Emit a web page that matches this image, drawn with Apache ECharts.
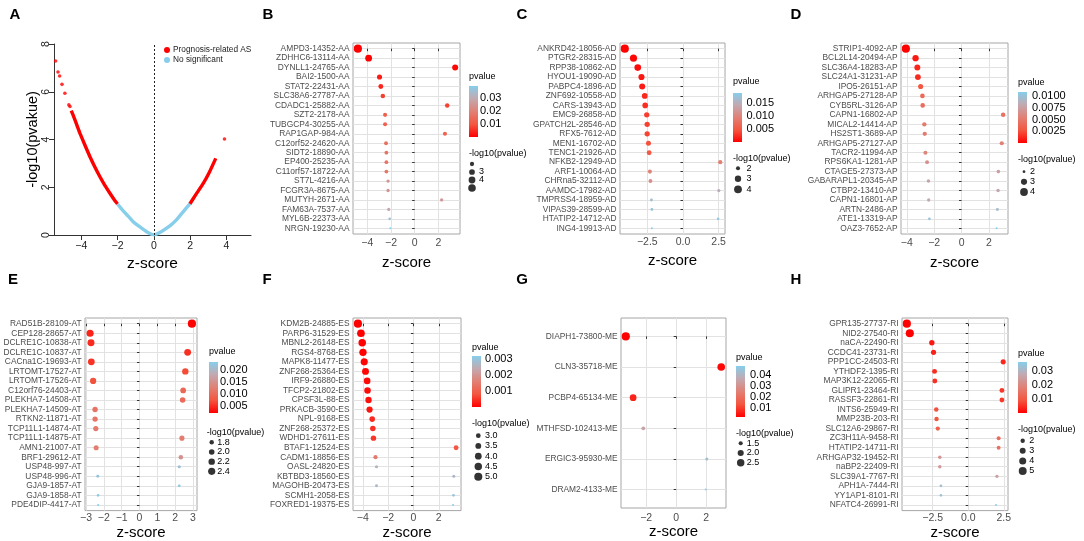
<!DOCTYPE html>
<html lang="en">
<head>
<meta charset="UTF-8">
<title>Prognosis-related AS events</title>
<script src="https://cdn.jsdelivr.net/npm/echarts@6.0.0/dist/echarts.min.js"></script>
<style>
    * { margin: 0; padding: 0; }
    html, body { width: 100%; height: 100%; background: #fff; }
    #main { width: 1084px; height: 541px; }
</style>
</head>
<body>
<div id="main"></div>
<script>
var FONT = '"Liberation Sans", Arial, Helvetica, sans-serif';
// red (low p) -> skyblue (high p), roughly the Lab blend ggplot makes
var LOW_TO_HIGH = ['#ff0000', '#f35640', '#e18074', '#c2a9b0', '#87ceeb'];

// ---------- A: volcano-like curve ----------
var aRedLeft = [[-4.55,5.21],[-4.4,4.93],[-4.2,4.52],[-4.07,4.26],[-3.8,3.77],[-3.52,3.28],[-3.25,2.85],
                [-2.97,2.44],[-2.7,2.08],[-2.42,1.75],[-2.2,1.5],[-2.0,1.3]];
var aBlue = [[-2.0,1.3],[-1.7,1.02],[-1.4,0.78],[-1.14,0.56],[-0.8,0.36],[-0.4,0.14],[0,0.01],
             [0.4,0.14],[0.88,0.38],[1.2,0.6],[1.6,0.96],[1.98,1.3]];
var aRedRight = [[1.98,1.3],[2.3,1.68],[2.72,2.16],[3.05,2.62],[3.41,3.21]];
var aRedOut = [[-5.41,7.29],[-5.28,6.83],[-5.19,6.66],[-5.06,6.31],[-4.9,5.94],[-4.68,5.45],[-4.62,5.38],[3.89,4.02]];
var aTicksX = [-4, -2, 0, 2, 4];
var aTicksY = [0, 2, 4, 6, 8];

// ---------- B: AA ----------
var bNames = ['AMPD3-14352-AA','ZDHHC6-13114-AA','DYNLL1-24765-AA','BAI2-1500-AA','STAT2-22431-AA','SLC38A6-27787-AA',
    'CDADC1-25882-AA','SZT2-2178-AA','TUBGCP4-30255-AA','RAP1GAP-984-AA','C12orf52-24620-AA','SIDT2-18890-AA',
    'EP400-25235-AA','C11orf57-18722-AA','ST7L-4216-AA','FCGR3A-8675-AA','MUTYH-2671-AA','FAM63A-7537-AA',
    'MYL6B-22373-AA','NRGN-19230-AA'];
var bZ = [-4.80,-3.89,3.42,-2.97,-2.86,-2.69,2.75,-2.50,-2.50,2.56,-2.42,-2.39,-2.39,-2.39,-2.25,-2.25,2.28,-2.19,-2.11,-2.06];
var bP = [0.0000016,0.0001,0.00063,0.003,0.0042,0.0071,0.0075,0.0124,0.0125,0.0128,0.0155,0.0168,0.017,0.0172,
          0.0244,0.0245,0.025,0.0285,0.035,0.039];
var bTicks = [-4, -2, 0, 2];
var bBarTicks = [0.01, 0.02, 0.03];
var bBarLabels = ['0.01', '0.02', '0.03'];
var bSizeVals = [2, 3, 4, 5];
var bSizeLabels = ['2', '3', '4', '5'];

// ---------- C: AD ----------
var cNames = ['ANKRD42-18056-AD','PTGR2-28315-AD','RPP38-10862-AD','HYOU1-19090-AD','PABPC4-1896-AD','ZNF692-10558-AD',
    'CARS-13943-AD','EMC9-26858-AD','GPATCH2L-28546-AD','RFX5-7612-AD','MEN1-16702-AD','TENC1-21926-AD',
    'NFKB2-12949-AD','ARF1-10064-AD','CHRna5-32112-AD','AAMDC-17982-AD','TMPRSS4-18959-AD','VIPAS39-28599-AD',
    'HTATIP2-14712-AD','ING4-19913-AD'];
var cZ = [-4.08,-3.47,-3.17,-2.91,-2.86,-2.68,-2.65,-2.54,-2.51,-2.51,-2.42,-2.37,2.61,-2.32,-2.28,2.51,-2.21,-2.18,2.46,-2.18];
var cP = [0.00005,0.00035,0.0007,0.0013,0.0015,0.0023,0.0025,0.0034,0.0036,0.0037,0.0046,0.0052,0.0092,0.0097,
          0.011,0.0148,0.0168,0.0172,0.018,0.0188];
var cTicks = [-2.5, 0, 2.5];
var cBarTicks = [0.005, 0.010, 0.015];
var cBarLabels = ['0.005', '0.010', '0.015'];
var cSizeVals = [2, 3, 4];
var cSizeLabels = ['2', '3', '4'];

// ---------- D: AP ----------
var dNames = ['STRIP1-4092-AP','BCL2L14-20494-AP','SLC36A4-18283-AP','SLC24A1-31231-AP','IPO5-26151-AP','ARHGAP5-27128-AP',
    'CYB5RL-3126-AP','CAPN1-16802-AP','MICAL2-14414-AP','HS2ST1-3689-AP','ARHGAP5-27127-AP','TACR2-11994-AP',
    'RPS6KA1-1281-AP','CTAGE5-27373-AP','GABARAPL1-20345-AP','CTBP2-13410-AP','CAPN1-16801-AP','ARTN-2486-AP',
    'ATE1-13319-AP','OAZ3-7652-AP'];
var dZ = [-4.07,-3.36,-3.23,-3.19,-2.99,-2.86,-2.84,3.04,-2.72,-2.69,2.94,-2.64,-2.52,2.69,-2.42,2.67,-2.40,2.62,-2.35,2.57];
var dP = [0.00005,0.0008,0.0012,0.0014,0.0028,0.0040,0.0042,0.0045,0.0050,0.0052,0.0055,0.0058,0.0065,0.0075,
          0.0078,0.0080,0.0083,0.0095,0.0100,0.0108];
var dTicks = [-4, -2, 0, 2];
var dBarTicks = [0.0025, 0.0050, 0.0075, 0.0100];
var dBarLabels = ['0.0025', '0.0050', '0.0075', '0.0100'];
var dSizeVals = [2, 3, 4];
var dSizeLabels = ['2', '3', '4'];

// ---------- E: AT ----------
var eNames = ['RAD51B-28109-AT','CEP128-28657-AT','DCLRE1C-10838-AT','DCLRE1C-10837-AT','CACna1C-19693-AT',
    'LRTOMT-17527-AT','LRTOMT-17526-AT','C12orf76-24403-AT','PLEKHA7-14508-AT','PLEKHA7-14509-AT','RTKN2-11871-AT',
    'TCP11L1-14874-AT','TCP11L1-14875-AT','AMN1-21007-AT','BRF1-29612-AT','USP48-997-AT','USP48-996-AT',
    'GJA9-1857-AT','GJA9-1858-AT','PDE4DIP-4417-AT'];
var eZ = [2.94,-2.77,-2.72,2.70,-2.70,2.57,-2.60,2.45,2.42,-2.49,-2.49,-2.45,2.38,-2.43,2.32,2.23,-2.34,2.23,-2.32,-2.32];
var eP = [0.0018,0.004,0.0045,0.0048,0.005,0.0065,0.007,0.0095,0.0100,0.011,0.0112,0.0118,0.0122,0.0125,0.015,
          0.0215,0.022,0.0225,0.023,0.0235];
var eTicks = [-3, -2, -1, 0, 1, 2, 3];
var eBarTicks = [0.005, 0.010, 0.015, 0.020];
var eBarLabels = ['0.005', '0.010', '0.015', '0.020'];
var eSizeVals = [1.8, 2.0, 2.2, 2.4];
var eSizeLabels = ['1.8', '2.0', '2.2', '2.4'];

// ---------- F: ES ----------
var fNames = ['KDM2B-24885-ES','PARP6-31529-ES','MBNL2-26148-ES','RGS4-8768-ES','MAPK8-11477-ES','ZNF268-25364-ES',
    'IRF9-26880-ES','TFCP2-21802-ES','CPSF3L-88-ES','PRKACB-3590-ES','NPL-9168-ES','ZNF268-25372-ES','WDHD1-27611-ES',
    'BTAF1-12524-ES','CADM1-18856-ES','OASL-24820-ES','KBTBD3-18560-ES','MAGOHB-20473-ES','SCMH1-2058-ES',
    'FOXRED1-19375-ES'];
var fZ = [-4.39,-4.15,-4.05,-3.99,-3.89,-3.79,-3.66,-3.63,-3.55,-3.47,-3.26,-3.21,-3.16,3.37,-3.00,-2.92,3.19,-2.92,3.16,3.13];
var fP = [0.0000079,0.00002,0.000028,0.000035,0.00005,0.000071,0.00011,0.00013,0.00016,0.0002,0.0004,0.00045,
          0.0005,0.00085,0.0015,0.0026,0.0027,0.0028,0.003,0.0032];
var fTicks = [-4, -2, 0, 2];
var fBarTicks = [0.001, 0.002, 0.003];
var fBarLabels = ['0.001', '0.002', '0.003'];
var fSizeVals = [3.0, 3.5, 4.0, 4.5, 5.0];
var fSizeLabels = ['3.0', '3.5', '4.0', '4.5', '5.0'];

// ---------- G: ME ----------
var gNames = ['DIAPH1-73800-ME','CLN3-35718-ME','PCBP4-65134-ME','MTHFSD-102413-ME','ERGIC3-95930-ME','DRAM2-4133-ME'];
var gZ = [-3.36, 3.00, -2.87, -2.19, 2.04, 1.97];
var gP = [0.0014, 0.0025, 0.006, 0.035, 0.043, 0.048];
var gTicks = [-2, 0, 2];
var gBarTicks = [0.01, 0.02, 0.03, 0.04];
var gBarLabels = ['0.01', '0.02', '0.03', '0.04'];
var gSizeVals = [1.5, 2.0, 2.5];
var gSizeLabels = ['1.5', '2.0', '2.5'];

// ---------- H: RI ----------
var hNames = ['GPR135-27737-RI','NID2-27540-RI','naCA-22490-RI','CCDC41-23731-RI','PPP1CC-24503-RI','YTHDF2-1395-RI',
    'MAP3K12-22065-RI','GLIPR1-23464-RI','RASSF3-22861-RI','INTS6-25949-RI','MMP23B-203-RI','SLC12A6-29867-RI',
    'ZC3H11A-9458-RI','HTATIP2-14711-RI','ARHGAP32-19452-RI','naBP2-22409-RI','SLC39A1-7767-RI','APH1A-7444-RI',
    'YY1AP1-8101-RI','NFATC4-26991-RI'];
var hZ = [-4.32,-4.11,-2.56,-2.44,2.46,-2.37,-2.35,2.37,2.37,-2.25,-2.23,-2.14,2.14,2.14,-2.00,-2.00,2.02,-1.92,-1.92,1.95];
var hP = [0.000005,0.000006,0.0025,0.0035,0.004,0.0048,0.005,0.0058,0.006,0.0085,0.009,0.011,0.014,0.015,0.022,
          0.023,0.025,0.032,0.033,0.036];
var hTicks = [-2.5, 0, 2.5];
var hBarTicks = [0.01, 0.02, 0.03];
var hBarLabels = ['0.01', '0.02', '0.03'];
var hSizeVals = [2, 3, 4, 5];
var hSizeLabels = ['2', '3', '4', '5'];

// layout of the seven dot plots (pixels)
var panels = [
    { letter: 'B', at: [268, 15], box: [353, 43, 107, 191], names: bNames, z: bZ, p: bP, ticks: bTicks, digits: 0,
      labMargin: 4, nameGap: 21, bar: [469, 86, 51], barLabX: 480, barTicks: bBarTicks, barLabels: bBarLabels,
      barTitleY: 77, size: [472, 164, 188], sizeLabX: 479, sizeTitle: [469, 154], sizeVals: bSizeVals, sizeLabels: bSizeLabels },
    { letter: 'C', at: [522, 15], box: [620, 43, 105, 191], names: cNames, z: cZ, p: cP, ticks: cTicks, digits: 1,
      labMargin: 3, nameGap: 19, bar: [733, 93, 49], barLabX: 746.5, barTicks: cBarTicks, barLabels: cBarLabels,
      barTitleY: 82, size: [738, 168.3, 189.3], sizeLabX: 746.5, sizeTitle: [733, 158.3], sizeVals: cSizeVals, sizeLabels: cSizeLabels },
    { letter: 'D', at: [796, 15], box: [901, 43, 107, 191], names: dNames, z: dZ, p: dP, ticks: dTicks, digits: 0,
      labMargin: 4, nameGap: 21, bar: [1018, 92, 51], barLabX: 1032, barTicks: dBarTicks, barLabels: dBarLabels,
      barTitleY: 83, size: [1024, 171.7, 192], sizeLabX: 1030, sizeTitle: [1018, 159.3], sizeVals: dSizeVals, sizeLabels: dSizeLabels },
    { letter: 'E', at: [13, 280], box: [85, 318, 112, 193], names: eNames, z: eZ, p: eP, ticks: eTicks, digits: 0,
      labMargin: 2.5, nameGap: 14, bar: [209, 362, 51], barLabX: 220, barTicks: eBarTicks, barLabels: eBarLabels,
      barTitleY: 352, size: [211.7, 442.3, 471.3], sizeLabX: 217.3, sizeTitle: [206.7, 432.7], sizeVals: eSizeVals, sizeLabels: eSizeLabels },
    { letter: 'F', at: [267, 280], box: [353, 318, 108, 193], names: fNames, z: fZ, p: fP, ticks: fTicks, digits: 0,
      labMargin: 2.5, nameGap: 14, bar: [472, 356, 51], barLabX: 485, barTicks: fBarTicks, barLabels: fBarLabels,
      barTitleY: 347.3, size: [478.3, 435.7, 476.7], sizeLabX: 485, sizeTitle: [472, 424], sizeVals: fSizeVals, sizeLabels: fSizeLabels },
    { letter: 'G', at: [522, 280], box: [621, 318, 105, 190], names: gNames, z: gZ, p: gP, ticks: gTicks, digits: 0,
      labMargin: 4.5, nameGap: 16, bar: [736, 366, 51], barLabX: 750, barTicks: gBarTicks, barLabels: gBarLabels,
      barTitleY: 357.3, size: [740.7, 443.3, 462.7], sizeLabX: 746.7, sizeTitle: [736, 433.3], sizeVals: gSizeVals, sizeLabels: gSizeLabels },
    { letter: 'H', at: [796, 280], box: [902, 318, 106, 193], names: hNames, z: hZ, p: hP, ticks: hTicks, digits: 1,
      labMargin: 2.5, nameGap: 14, bar: [1018, 362, 51], barLabX: 1031.7, barTicks: hBarTicks, barLabels: hBarLabels,
      barTitleY: 353.3, size: [1022.7, 440.7, 471], sizeLabX: 1029.3, sizeTitle: [1018, 429.3], sizeVals: hSizeVals, sizeLabels: hSizeLabels }
];

function fmt(v, d) {
    var s = Math.abs(v).toFixed(d);
    return (v < -1e-9 ? '\u2212' : '') + s;
}
function nearestLabel(vals, labs, v) {
    var k = 0, best = Infinity;
    for (var i = 0; i < vals.length; i++) {
        var dd = Math.abs(vals[i] - v);
        if (dd < best) { best = dd; k = i; }
    }
    return labs[k];
}
// ggplot's default 5% padding of a continuous range
function expand(vals) {
    var lo = Math.min.apply(null, vals), hi = Math.max.apply(null, vals), pad = (hi - lo) * 0.05;
    return [lo - pad, hi + pad];
}
// area-proportional point size, like scale_size()
function sizeScale(lo, hi) {
    return function (v) {
        var r = Math.max(0, Math.min(1, (v - lo) / (hi - lo)));
        return 2.0 + 6.2 * Math.sqrt(r);
    };
}
var barStops = LOW_TO_HIGH.slice().reverse().map(function (c, i, arr) {
    return { offset: i / (arr.length - 1), color: c };
});
function barItem(params, api) {
    var a = api.coord([0, api.value(2)]), b = api.coord([1, api.value(1)]);
    return { type: 'rect', shape: { x: a[0], y: a[1], width: b[0] - a[0], height: b[1] - a[1] },
             style: { fill: new echarts.graphic.LinearGradient(0, 0, 0, 1, barStops) } };
}

var grids = [], xAxes = [], yAxes = [], series = [], visualMaps = [], texts = [];

function letter(t, at) {
    texts.push({ type: 'text', x: at[0], y: at[1], silent: true,
        style: { text: t, font: 'bold 15px ' + FONT, fill: '#000', textAlign: 'center', textVerticalAlign: 'middle',
                 align: 'center', verticalAlign: 'middle' } });
}
function note(t, x, y, size) {
    texts.push({ type: 'text', x: x, y: y, silent: true,
        style: { text: t, font: size + 'px ' + FONT, fill: '#000', textAlign: 'left', textVerticalAlign: 'middle',
                 align: 'left', verticalAlign: 'middle' } });
}

// ---------- panel A ----------
grids.push({ left: 54, top: 44, width: 197, height: 191 });
xAxes.push({ gridIndex: 0, type: 'value', min: -5.5, max: 5.35,
    axisLine: { show: true, onZero: false, lineStyle: { color: '#333', width: 1 } },
    axisTick: { show: true, length: 5, customValues: aTicksX, lineStyle: { color: '#333' } },
    axisLabel: { customValues: aTicksX, margin: 5.5, fontSize: 10.5, color: '#222', fontFamily: FONT,
                 formatter: function (v) { return fmt(v, 0); } },
    splitLine: { show: false },
    name: 'z-score', nameLocation: 'middle', nameGap: 20.5,
    nameTextStyle: { fontSize: 15.5, color: '#000', fontFamily: FONT } });
yAxes.push({ gridIndex: 0, type: 'value', min: 0, max: 8,
    axisLine: { show: true, onZero: false, lineStyle: { color: '#333', width: 1 } },
    axisTick: { show: true, length: 5, customValues: aTicksY, lineStyle: { color: '#333' } },
    axisLabel: { customValues: aTicksY, rotate: 90, margin: 2, fontSize: 10.5, color: '#222', fontFamily: FONT },
    splitLine: { show: false },
    name: '-log10(pvakue)', nameLocation: 'middle', nameGap: 14,
    nameTextStyle: { fontSize: 14.5, color: '#000', fontFamily: FONT } });
[aRedLeft, aRedRight].forEach(function (seg) {
    series.push({ type: 'line', name: 'Prognosis-related AS', xAxisIndex: 0, yAxisIndex: 0, data: seg,
        showSymbol: false, smooth: 0.2, lineStyle: { width: 3.4, color: '#ff0000' }, itemStyle: { color: '#ff0000' }, z: 3 });
});
series.push({ type: 'line', name: 'No significant', xAxisIndex: 0, yAxisIndex: 0, data: aBlue,
    showSymbol: false, smooth: 0.2, lineStyle: { width: 3.4, color: '#87ceeb' }, itemStyle: { color: '#87ceeb' }, z: 3,
    markLine: { silent: true, symbol: ['none', 'none'], label: { show: false },
                lineStyle: { type: [2, 2], color: '#222', width: 1 }, data: [{ xAxis: 0 }] } });
series.push({ type: 'scatter', name: 'Prognosis-related AS', xAxisIndex: 0, yAxisIndex: 0, data: aRedOut,
    symbolSize: 3.6, itemStyle: { color: '#ff0000' }, z: 3 });
letter('A', [15, 15]);

// ---------- panels B-H ----------
panels.forEach(function (P) {
    var n = P.names.length;
    var xr = expand(P.z);
    var lp = P.p.map(function (v) { return -Math.log10(v); });
    var size = sizeScale(Math.min.apply(null, lp), Math.max.apply(null, lp));
    var pmin = Math.min.apply(null, P.p), pmax = Math.max.apply(null, P.p);
    var rows = P.names.map(function (_, i) { return i; });

    // dot plot; grid lines come from the axes themselves
    var gi = grids.length;
    grids.push({ left: P.box[0], top: P.box[1], width: P.box[2], height: P.box[3], show: true,
                 backgroundColor: '#fff', borderColor: '#a6a6a6', borderWidth: 1 });
    xAxes.push({ gridIndex: gi, type: 'value', min: xr[0], max: xr[1],
        axisLine: { show: false },
        axisTick: { show: true, length: 2.5, customValues: P.ticks, lineStyle: { color: '#333' } },
        axisLabel: { customValues: P.ticks, margin: P.labMargin, fontSize: 10.5, color: '#4d4d4d', fontFamily: FONT,
                     formatter: function (v) { return fmt(v, P.digits); } },
        splitLine: { show: true, lineStyle: { color: '#e2e2e2', width: 1 } },
        name: 'z-score', nameLocation: 'middle', nameGap: P.nameGap,
        nameTextStyle: { fontSize: 15, color: '#000', fontFamily: FONT } });
    yAxes.push({ gridIndex: gi, type: 'value', inverse: true, min: -0.6, max: n - 0.4,
        axisLine: { show: false },
        axisTick: { show: true, length: 2.5, customValues: rows, lineStyle: { color: '#333' } },
        axisLabel: { customValues: rows, margin: 3.5, fontSize: 8.4, color: '#4d4d4d', fontFamily: FONT,
                     formatter: function (v) { return P.names[Math.round(v)]; } },
        splitLine: { show: true, lineStyle: { color: '#e2e2e2', width: 1 } } });
    var si = series.length;
    series.push({ type: 'scatter', xAxisIndex: gi, yAxisIndex: gi,
        data: P.names.map(function (nm, i) { return [P.z[i], i, P.p[i]]; }),
        symbolSize: function (val) { return size(-Math.log10(val[2])); },
        itemStyle: { opacity: 1 }, z: 3 });
    visualMaps.push({ type: 'continuous', show: false, seriesIndex: si, dimension: 2, min: pmin, max: pmax,
                      inRange: { color: LOW_TO_HIGH } });

    // colour bar
    var ci = grids.length;
    grids.push({ left: P.bar[0], top: P.bar[1], width: 9, height: P.bar[2] });
    xAxes.push({ gridIndex: ci, type: 'value', min: 0, max: 1, show: false });
    yAxes.push({ gridIndex: ci, type: 'value', min: pmin, max: pmax, position: 'right', z: 5,
        axisLine: { show: false }, splitLine: { show: false },
        axisTick: { show: true, inside: true, length: 2, customValues: P.barTicks, lineStyle: { color: '#fff', width: 0.8 } },
        axisLabel: { customValues: P.barTicks, margin: P.barLabX - P.bar[0] - 9, fontSize: 11, color: '#000', fontFamily: FONT,
                     formatter: function (v) { return nearestLabel(P.barTicks, P.barLabels, v); } } });
    series.push({ type: 'custom', xAxisIndex: ci, yAxisIndex: ci, data: [[0, pmin, pmax]], renderItem: barItem,
                  silent: true, z: 1 });

    // size key
    var k = P.sizeVals.length;
    var gap = (P.size[2] - P.size[1]) / (k - 1);
    var li = grids.length;
    grids.push({ left: P.size[0] - 6, top: P.size[1] - gap / 2, width: 12, height: gap * k });
    xAxes.push({ gridIndex: li, type: 'value', min: -1, max: 1, show: false });
    yAxes.push({ gridIndex: li, type: 'value', inverse: true, min: -0.5, max: k - 0.5, position: 'right',
        axisLine: { show: false }, axisTick: { show: false }, splitLine: { show: false },
        axisLabel: { customValues: P.sizeVals.map(function (_, j) { return j; }), margin: P.sizeLabX - P.size[0] - 6,
                     fontSize: 9, color: '#000', fontFamily: FONT,
                     formatter: function (v) { return P.sizeLabels[Math.round(v)]; } } });
    series.push({ type: 'scatter', xAxisIndex: li, yAxisIndex: li, silent: true, z: 3,
        data: P.sizeVals.map(function (v, j) { return [0, j, v]; }),
        symbolSize: function (val) { return size(val[2]); },
        itemStyle: { color: '#000' } });

    letter(P.letter, P.at);
    note('pvalue', P.bar[0], P.barTitleY, 9);
    note('-log10(pvalue)', P.sizeTitle[0], P.sizeTitle[1], 9);
});

var chart = echarts.init(document.getElementById('main'));
chart.setOption({
    animation: false,
    backgroundColor: '#fff',
    textStyle: { fontFamily: FONT },
    legend: {
        left: 164, top: 46, orient: 'vertical', padding: 0, itemGap: 2, itemWidth: 6, itemHeight: 6,
        selectedMode: false,
        textStyle: { fontSize: 8.3, color: '#222', fontFamily: FONT, padding: [0, 0, 0, -2] },
        data: [{ name: 'Prognosis-related AS', icon: 'circle' }, { name: 'No significant', icon: 'circle' }]
    },
    grid: grids,
    xAxis: xAxes,
    yAxis: yAxes,
    visualMap: visualMaps,
    series: series,
    graphic: texts
});
</script>
</body>
</html>
